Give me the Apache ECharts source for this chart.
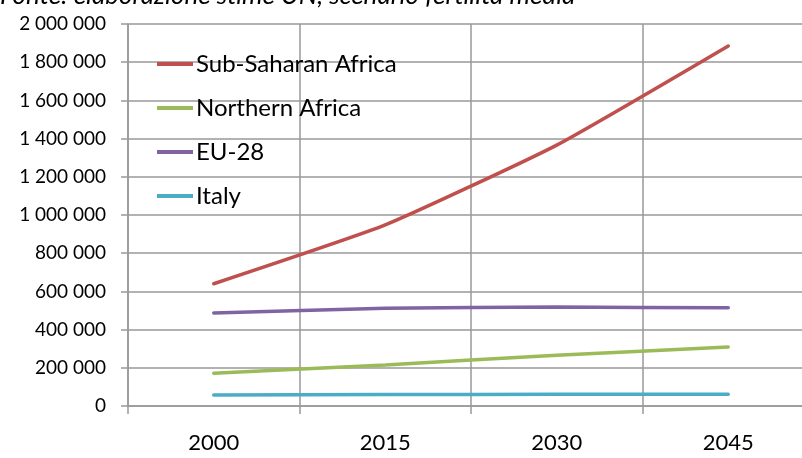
<!DOCTYPE html>
<html>
<head>
<meta charset="utf-8">
<script src="https://cdn.jsdelivr.net/npm/echarts@6/dist/echarts.min.js"></script>
<style>
  html, body { margin: 0; padding: 0; background: #fff; overflow: hidden; }
  #main { width: 814px; height: 458px; }
</style>
</head>
<body>
<div id="main"></div>
<script>
// anni e valori (stime)
const years = ['2000', '2015', '2030', '2045'];
const subSaharan = [640000, 948000, 1366000, 1885000];
const northernAfrica = [172000, 215000, 266000, 309000];
const eu28 = [487000, 512000, 518000, 514000];
const italy = [57000, 60000, 61000, 61000];
const seriesNames = ['Sub-Saharan Africa', 'Northern Africa', 'EU-28', 'Italy'];
const colors = ['#C0504D', '#9BBB59', '#8064A2', '#4BACC6'];

const chart = echarts.init(document.getElementById('main'));

function fmt(v) {
  return String(v).replace(/\B(?=(\d{3})+(?!\d))/g, ' ');
}

const gridColor = '#999';
const font = 'Lato, "Open Sans", sans-serif';

chart.setOption({
  animation: false,
  color: colors,
  title: {
    text: 'Fonte: elaborazione stime UN, scenario fertilità media',
    left: 0,
    top: -17,
    padding: 0,
    textStyle: { fontFamily: font, fontSize: 26, fontStyle: 'italic', fontWeight: 'normal', color: '#000' }
  },
  legend: {
    orient: 'vertical',
    left: 157,
    top: 52,
    padding: 0,
    itemWidth: 36,
    itemHeight: 4,
    itemGap: 20,
    icon: 'rect',
    textStyle: { fontFamily: font, fontSize: 24, color: '#000', padding: [0, 0, 0, -2] },
    data: seriesNames
  },
  grid: { left: 128, top: 24, right: 0, bottom: 52 },
  xAxis: {
    type: 'category',
    data: years,
    boundaryGap: true,
    axisLine: { lineStyle: { color: gridColor, width: 1.5 } },
    axisTick: { show: true, length: 8, lineStyle: { color: gridColor, width: 1.5 } },
    axisLabel: { fontFamily: font, fontSize: 22, color: '#000', margin: 26 },
    splitLine: { show: true, lineStyle: { color: gridColor, width: 1.5 } }
  },
  yAxis: {
    type: 'value',
    min: 0,
    max: 2000000,
    interval: 200000,
    axisLine: { show: true, lineStyle: { color: gridColor, width: 1.5 } },
    axisTick: { show: true, length: 7, lineStyle: { color: gridColor, width: 1.5 } },
    axisLabel: { fontFamily: font, fontSize: 19, color: '#000', margin: 22, formatter: fmt },
    splitLine: { lineStyle: { color: gridColor, width: 1.5 } }
  },
  series: [
    { name: seriesNames[0], type: 'line', data: subSaharan },
    { name: seriesNames[1], type: 'line', data: northernAfrica },
    { name: seriesNames[2], type: 'line', data: eu28 },
    { name: seriesNames[3], type: 'line', data: italy }
  ].map(s => Object.assign(s, {
    symbol: 'none',
    smooth: 0.15,
    lineStyle: { width: 3.5, cap: 'round' }
  }))
});
</script>
</body>
</html>
